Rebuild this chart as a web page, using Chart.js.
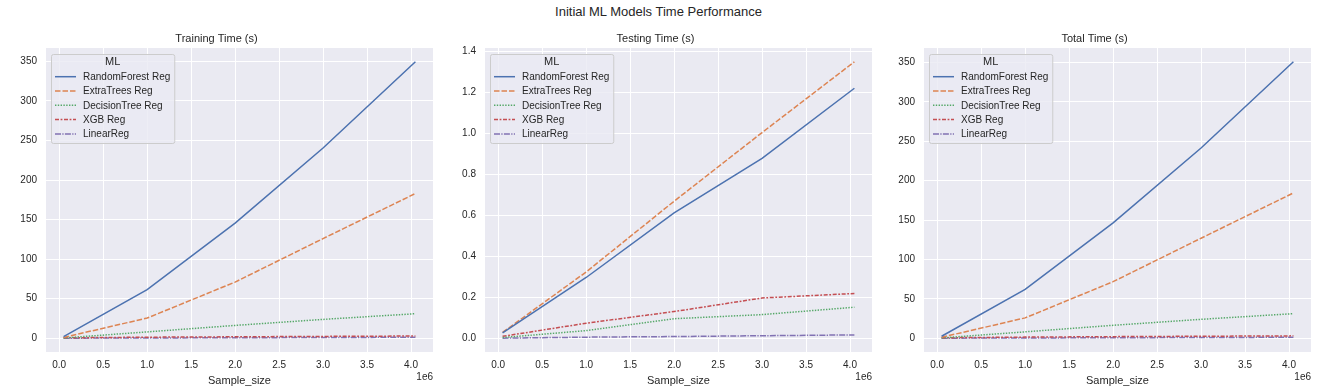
<!DOCTYPE html>
<html>
<head>
<meta charset="utf-8">
<script src="https://cdn.jsdelivr.net/npm/chart.js@4/dist/chart.umd.min.js"></script>
<style>
  body { margin: 0; background: #fff; width: 1317px; height: 391px; position: relative; overflow: hidden; font-family: "Liberation Sans", Arial, sans-serif; }
  #suptitle { position: absolute; left: 0; width: 1317px; top: 4px; text-align: center; font-size: 13px; color: #262626; }
  canvas { position: absolute; top: 0; }
</style>
</head>
<body>
<div id="suptitle">Initial ML Models Time Performance</div>
<canvas id="c1" width="439" height="391" style="left:0px"></canvas>
<canvas id="c2" width="439" height="391" style="left:439px"></canvas>
<canvas id="c3" width="439" height="391" style="left:878px"></canvas>
<script>
// valores
const sampleSizes = [50000, 1000000, 2000000, 3000000, 4050000];
const models = ['RandomForest Reg', 'ExtraTrees Reg', 'DecisionTree Reg', 'XGB Reg', 'LinearReg'];

const trainingTime = [
    [2.0, 61.5, 145.5, 240.5, 349.5],
    [1.0, 25.5, 71.0, 126.0, 183.0],
    [0.3, 8.0, 16.2, 23.8, 31.0],
    [0.5, 1.3, 1.8, 2.3, 2.8],
    [0.05, 0.3, 0.6, 0.9, 1.2]
];
const testingTime = [
    [0.028, 0.298, 0.613, 0.879, 1.221],
    [0.030, 0.325, 0.670, 1.005, 1.350],
    [0.005, 0.039, 0.097, 0.117, 0.153],
    [0.011, 0.075, 0.132, 0.198, 0.220],
    [0.002, 0.007, 0.010, 0.014, 0.018]
];
const totalTime = [
    [2.5, 62.0, 146.5, 241.5, 351.0],
    [1.2, 25.8, 71.8, 127.0, 184.5],
    [0.4, 8.1, 16.4, 24.0, 31.2],
    [0.6, 1.4, 2.0, 2.5, 3.0],
    [0.05, 0.3, 0.6, 0.9, 1.2]
];

// ticks
const xTicks = [0.0, 0.5, 1.0, 1.5, 2.0, 2.5, 3.0, 3.5, 4.0]; // em 1e6
const yTicksTime = [0, 50, 100, 150, 200, 250, 300, 350];
const yTicksTest = [0.0, 0.2, 0.4, 0.6, 0.8, 1.0, 1.2, 1.4];
const panelTitles = ['Training Time (s)', 'Testing Time (s)', 'Total Time (s)'];

// estilo seaborn
const cores = ['#4C72B0', '#DD8452', '#55A868', '#C44E52', '#8172B3'];
const tracos = [[], [5.5, 2], [1.4, 1.4], [4, 1.6, 1.8, 1.6], [6, 1.3, 1.3, 1.3]];
const txtColor = '#262626';
const fonte = '"Liberation Sans", Arial, sans-serif';

// fundo do painel
const fundoPlugin = {
    id: 'fundo',
    beforeDraw(chart) {
        const a = chart.chartArea, ctx = chart.ctx;
        ctx.save();
        ctx.fillStyle = '#EAEAF2';
        ctx.fillRect(a.left, a.top, a.right - a.left, a.bottom - a.top);
        ctx.restore();
    }
};

// legenda estilo matplotlib dentro do gráfico
const legendaPlugin = {
    id: 'legendaML',
    afterDatasetsDraw(chart) {
        const a = chart.chartArea, ctx = chart.ctx;
        const x0 = a.left + 5, y0 = a.top + 6;
        ctx.save();
        ctx.font = '10px ' + fonte;
        let maxW = 0;
        chart.data.datasets.forEach(d => { maxW = Math.max(maxW, ctx.measureText(d.label).width); });
        const w = 32 + maxW + 4, h = 89;
        ctx.beginPath();
        ctx.roundRect(x0 + 0.5, y0 + 0.5, w, h, 2);
        ctx.fillStyle = 'rgba(234,234,242,0.8)';
        ctx.fill();
        ctx.strokeStyle = '#cccccc';
        ctx.lineWidth = 1;
        ctx.stroke();

        ctx.fillStyle = txtColor;
        ctx.textAlign = 'center';
        ctx.textBaseline = 'middle';
        ctx.font = '11px ' + fonte;
        ctx.fillText('ML', x0 + w / 2, y0 + 8);

        ctx.font = '10px ' + fonte;
        ctx.textAlign = 'left';
        chart.data.datasets.forEach((d, i) => {
            const y = y0 + 22.7 + i * 14.3;
            ctx.beginPath();
            ctx.setLineDash(d.borderDash || []);
            ctx.strokeStyle = d.borderColor;
            ctx.lineWidth = d.borderWidth;
            ctx.moveTo(x0 + 4, y);
            ctx.lineTo(x0 + 25, y);
            ctx.stroke();
            ctx.setLineDash([]);
            ctx.fillStyle = txtColor;
            ctx.fillText(d.label, x0 + 32, y + 0.5);
        });
        ctx.restore();
    }
};

// texto "1e6" do eixo x
const offsetPlugin = {
    id: 'offsetX',
    afterDraw(chart) {
        const a = chart.chartArea, ctx = chart.ctx;
        ctx.save();
        ctx.font = '10px ' + fonte;
        ctx.fillStyle = txtColor;
        ctx.textAlign = 'right';
        ctx.textBaseline = 'middle';
        ctx.fillText('1e6', a.right, a.bottom + 25);
        ctx.restore();
    }
};

function limites(arr) {
    let min = Infinity, max = -Infinity;
    arr.forEach(v => { min = Math.min(min, v); max = Math.max(max, v); });
    const m = (max - min) * 0.05;
    return [min - m, max + m];
}

function criarPainel(id, titulo, series, yTicks, casas) {
    const [xmin, xmax] = limites(sampleSizes);
    const [ymin, ymax] = limites(series.flat());
    const datasets = models.map((nome, i) => ({
        label: nome,
        data: sampleSizes.map((s, j) => ({ x: s, y: series[i][j] })),
        borderColor: cores[i],
        borderWidth: 1.5,
        borderDash: tracos[i],
        pointRadius: 0,
        fill: false,
        tension: 0
    }));

    return new Chart(document.getElementById(id), {
        type: 'line',
        data: { datasets },
        options: {
            responsive: false,
            animation: false,
            devicePixelRatio: 1,
            layout: { padding: { top: 32.8, right: 6, bottom: 3, left: 0 } },
            scales: {
                x: {
                    type: 'linear',
                    min: xmin, max: xmax,
                    afterFit: s => { s.height = 36; },
                    afterBuildTicks: s => { s.ticks = xTicks.map(v => ({ value: v * 1e6 })); },
                    grid: { color: '#ffffff', lineWidth: 1, drawTicks: false },
                    border: { display: false },
                    ticks: {
                        autoSkip: false, maxRotation: 0,
                        padding: 7, color: txtColor, font: { size: 10, family: fonte },
                        callback: v => (v / 1e6).toFixed(1)
                    },
                    title: { display: true, text: 'Sample_size', color: txtColor, font: { size: 11, family: fonte }, padding: { top: 0, bottom: 0 } }
                },
                y: {
                    min: ymin, max: ymax,
                    afterFit: s => { s.width = 46; },
                    afterBuildTicks: s => { s.ticks = yTicks.map(v => ({ value: v })); },
                    grid: { color: '#ffffff', lineWidth: 1, drawTicks: false },
                    border: { display: false },
                    ticks: {
                        autoSkip: false, padding: 9,
                        color: txtColor, font: { size: 10, family: fonte },
                        callback: v => v.toFixed(casas)
                    }
                }
            },
            plugins: {
                legend: { display: false },
                tooltip: { enabled: false },
                title: {
                    display: true, text: titulo, color: txtColor,
                    font: { size: 11, family: fonte, weight: 'normal' },
                    padding: { top: 0, bottom: 2 }
                }
            }
        },
        plugins: [fundoPlugin, legendaPlugin, offsetPlugin]
    });
}

criarPainel('c1', panelTitles[0], trainingTime, yTicksTime, 0);
criarPainel('c2', panelTitles[1], testingTime, yTicksTest, 1);
criarPainel('c3', panelTitles[2], totalTime, yTicksTime, 0);
</script>
</body>
</html>
